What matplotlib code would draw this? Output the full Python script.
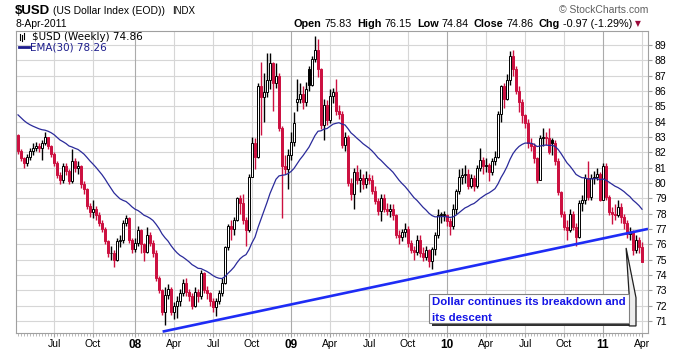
import matplotlib
matplotlib.use("Agg")
import matplotlib.pyplot as plt
from matplotlib.patches import Rectangle, Polygon
from matplotlib.transforms import Affine2D
import numpy as np
import pandas as pd

# weekly bars, labelled by the Monday that starts each week
first_week = "2007-04-09"

opens = [
    83.1, 82.1, 81.6, 81.3, 81.7, 82.1, 82.3, 82.4, 82.3, 82.6,
    83.0, 82.4, 81.9, 81.3, 80.5, 80.2, 81.1, 80.8, 80.1, 81.4,
    81.0, 81.1, 79.9, 79.6, 78.5, 78.1, 78.3, 77.9, 77.4, 77.0,
    76.2, 75.4, 75.4, 75.0, 76.2, 76.3, 77.4, 77.7, 76.3, 75.7,
    76.1, 76.9, 76.0, 75.5, 76.6, 76.1, 75.4, 73.8, 73.0, 71.6,
    72.7, 73.1, 71.6, 72.0, 72.3, 72.8, 73.5, 72.9, 72.6, 72.0,
    72.9, 72.6, 74.1, 73.0, 72.8, 72.3, 71.9, 72.3, 72.8, 73.5,
    75.8, 77.2, 77.0, 77.6, 79.0, 78.7, 77.6, 76.9, 80.4, 82.6,
    81.7, 86.3, 85.6, 85.9, 86.7, 87.8, 86.5, 87.0, 83.6, 81.1,
    80.9, 81.8, 82.7, 85.3, 85.5, 85.8, 85.3, 87.4, 86.4, 88.1,
    88.7, 87.4, 83.8, 85.1, 84.1, 85.7, 85.95, 84.7, 84.5, 82.5,
    83.0, 80.0, 79.3, 80.7, 80.2, 80.3, 79.9, 80.3, 80.2, 79.5,
    78.8, 78.2, 79.0, 78.3, 78.2, 78.3, 77.9, 76.6, 76.5, 76.8,
    77.0, 76.1, 75.6, 75.5, 76.3, 75.4, 75.2, 75.6, 74.9, 75.7,
    76.6, 77.9, 77.9, 77.9, 77.5, 77.2, 78.3, 79.5, 80.4, 80.5,
    80.6, 79.8, 80.3, 79.8, 81.0, 81.5, 81.1, 81.2, 80.7, 81.4,
    81.7, 84.5, 86.3, 85.5, 86.7, 88.3, 87.4, 86.0, 85.3, 84.4,
    83.9, 82.6, 82.4, 81.6, 80.2, 82.9, 83.0, 82.9, 82.8, 82.6,
    81.4, 79.4, 78.0, 77.1, 76.9, 78.0, 77.1, 76.5, 78.7, 78.9,
    80.3, 79.1, 80.3, 80.4, 80.6, 78.9, 81.1, 79.1, 78.1, 78.0,
    77.9, 78.4, 77.8, 77.4, 76.7, 76.8, 75.6, 76.3, 75.83,
]

highs = [
    83.2, 82.2, 81.7, 81.9, 82.3, 82.6, 82.7, 82.6, 82.8, 83.3,
    83.0, 82.5, 82.0, 81.4, 80.7, 81.3, 81.3, 80.9, 82.2, 81.6,
    81.4, 81.2, 80.1, 79.7, 78.7, 78.9, 78.5, 78.1, 77.6, 77.1,
    76.3, 75.9, 75.6, 76.4, 76.6, 77.6, 77.9, 77.8, 76.4, 76.4,
    77.2, 77.0, 76.1, 77.1, 76.8, 76.3, 75.6, 73.9, 73.1, 73.2,
    73.4, 73.2, 72.2, 72.6, 73.1, 73.7, 73.8, 73.1, 72.8, 73.2,
    73.1, 74.3, 74.2, 73.3, 72.9, 72.5, 72.5, 73.0, 73.8, 75.9,
    77.3, 77.6, 77.8, 79.1, 79.2, 79.3, 77.8, 80.6, 83.0, 82.9,
    86.5, 87.9, 87.2, 88.5, 88.5, 87.9, 87.8, 87.2, 83.7, 81.8,
    82.2, 83.3, 84.6, 86.8, 86.5, 86.3, 86.6, 87.6, 88.3, 89.6,
    89.4, 87.5, 85.5, 85.4, 86.1, 86.2, 86.8, 85.1, 84.7, 83.3,
    83.1, 80.3, 81.0, 81.2, 80.9, 80.6, 80.8, 80.6, 80.5, 79.8,
    79.0, 79.3, 79.3, 78.7, 78.6, 78.6, 78.0, 76.9, 77.0, 77.4,
    77.2, 76.3, 75.9, 76.6, 76.6, 75.8, 75.9, 75.7, 75.8, 76.8,
    78.3, 78.1, 78.2, 78.0, 77.7, 78.6, 79.6, 80.9, 81.0, 81.2,
    80.9, 80.6, 80.5, 81.2, 82.3, 81.7, 81.6, 81.3, 81.6, 82.1,
    84.7, 86.4, 86.5, 87.1, 88.6, 88.7, 87.6, 86.3, 85.5, 84.5,
    84.2, 82.9, 82.6, 81.7, 83.1, 83.6, 83.3, 83.6, 82.9, 82.8,
    81.6, 79.5, 78.2, 77.6, 78.3, 78.2, 77.4, 78.9, 79.2, 80.6,
    81.4, 80.6, 80.8, 81.0, 80.7, 81.3, 81.3, 79.2, 78.4, 78.6,
    78.9, 78.7, 78.0, 77.6, 77.1, 76.9, 76.6, 76.5, 76.15,
]

lows = [
    81.9, 81.4, 81.0, 81.1, 81.5, 81.8, 82.1, 82.0, 81.5, 82.5,
    82.2, 81.7, 81.1, 80.3, 79.9, 80.0, 80.5, 79.9, 80.0, 80.7,
    80.6, 79.7, 79.3, 78.3, 77.8, 77.7, 77.6, 77.2, 76.8, 76.0,
    75.2, 75.0, 74.5, 74.9, 75.8, 76.1, 77.2, 76.1, 75.4, 75.5,
    75.9, 75.4, 74.9, 75.4, 75.9, 75.2, 73.6, 72.8, 71.4, 70.7,
    72.4, 71.4, 71.1, 71.2, 72.0, 72.6, 72.6, 72.3, 71.8, 71.9,
    72.2, 72.4, 72.8, 72.4, 72.0, 71.6, 71.3, 72.1, 72.6, 73.4,
    75.6, 76.3, 76.6, 77.5, 78.0, 77.3, 75.9, 76.8, 80.4, 80.9,
    81.6, 83.1, 84.0, 85.6, 86.1, 84.7, 86.2, 83.4, 77.7, 80.6,
    79.6, 81.5, 82.4, 84.7, 85.2, 84.8, 85.0, 86.0, 86.3, 87.9,
    86.9, 83.5, 82.8, 83.8, 83.9, 85.2, 84.4, 84.2, 82.3, 82.1,
    79.8, 78.9, 78.3, 79.9, 79.4, 79.6, 79.7, 79.9, 79.3, 78.6,
    77.9, 77.5, 78.1, 77.9, 77.8, 77.6, 76.4, 76.0, 76.2, 76.5,
    75.8, 75.4, 75.0, 75.3, 75.2, 74.9, 75.0, 74.5, 74.4, 75.3,
    76.4, 77.4, 77.5, 77.2, 76.6, 77.0, 78.0, 79.3, 79.9, 80.0,
    79.6, 79.7, 79.5, 79.7, 80.8, 80.6, 80.7, 80.1, 80.5, 81.2,
    81.6, 84.0, 84.9, 85.4, 86.4, 87.0, 85.8, 84.6, 83.9, 83.6,
    82.3, 82.1, 81.3, 80.0, 80.2, 82.4, 82.5, 81.9, 81.8, 81.2,
    79.2, 77.8, 76.9, 76.3, 76.8, 76.9, 75.9, 76.4, 78.2, 78.6,
    78.9, 78.9, 79.9, 80.2, 78.8, 78.9, 78.9, 77.9, 77.3, 77.6,
    77.8, 77.4, 77.0, 76.4, 76.3, 75.3, 75.4, 75.4, 74.84,
]

closes = [
    82.1, 81.6, 81.3, 81.7, 82.1, 82.3, 82.4, 82.3, 82.6, 83.0,
    82.4, 81.9, 81.3, 80.5, 80.2, 81.1, 80.8, 80.1, 81.4, 81.0,
    81.1, 79.9, 79.6, 78.5, 78.1, 78.3, 77.9, 77.4, 77.0, 76.2,
    75.4, 75.4, 75.0, 76.2, 76.3, 77.4, 77.7, 76.3, 75.7, 76.1,
    76.9, 76.0, 75.5, 76.6, 76.1, 75.4, 73.8, 73.0, 71.6, 72.7,
    73.1, 71.6, 72.0, 72.3, 72.8, 73.5, 72.9, 72.6, 72.0, 72.9,
    72.6, 74.1, 73.0, 72.8, 72.3, 71.9, 72.3, 72.8, 73.5, 75.8,
    77.2, 77.0, 77.6, 79.0, 78.7, 77.6, 76.9, 80.4, 82.6, 81.7,
    86.3, 85.6, 85.9, 86.7, 87.8, 86.5, 87.0, 83.6, 81.1, 80.9,
    81.8, 82.7, 83.9, 85.5, 85.8, 85.3, 86.1, 86.4, 88.1, 88.7,
    87.4, 83.8, 85.1, 84.1, 85.7, 85.95, 84.7, 84.5, 82.5, 83.0,
    80.0, 79.3, 80.7, 80.2, 80.3, 79.9, 80.3, 80.2, 79.5, 78.8,
    78.2, 79.0, 78.3, 78.2, 78.3, 77.9, 76.6, 76.5, 76.8, 77.0,
    76.1, 75.6, 75.5, 76.3, 75.4, 75.2, 75.6, 74.9, 75.7, 76.6,
    77.9, 77.9, 77.9, 77.5, 77.2, 78.3, 79.5, 80.4, 80.5, 80.6,
    79.8, 80.3, 79.8, 81.0, 81.5, 81.1, 81.2, 80.7, 81.4, 81.7,
    84.5, 86.3, 85.5, 86.7, 88.3, 87.4, 86.0, 85.3, 84.4, 83.9,
    82.6, 82.4, 81.6, 80.2, 82.9, 83.0, 82.9, 82.0, 82.6, 81.4,
    79.4, 78.0, 77.1, 76.9, 78.0, 77.1, 76.5, 78.7, 78.9, 80.3,
    79.1, 80.3, 80.4, 80.6, 78.9, 81.1, 79.1, 78.1, 78.0, 77.9,
    78.4, 77.8, 77.4, 76.7, 76.8, 75.6, 76.3, 75.83, 74.86,
]

ema_span = 30
ema_seed = 84.6  # EMA level carried in from the weeks before the first bar

# hand-drawn trendline and note, in (bar index, price)
trend_start = (48.2, 70.3)
trend_end = (210.0, 77.0)
note_box = (137.0, 70.87, 203.7, 72.76)
note_tip = (202.7, 75.76)
note_lines = ["Dollar continues its breakdown and", "its descent"]

quote_items = [("Open", "75.83"), ("High", "76.15"), ("Low", "74.84"),
               ("Close", "74.86"), ("Chg", "-0.97 (-1.29%)")]

RED = "#CC1040"
NAVY = "#2A2A9A"
GRID = "#D6D6D6"
FRAME = "#A0A0A0"

plt.rcParams["font.family"] = ["Liberation Sans", "DejaVu Sans"]

fig = plt.figure(figsize=(6.8, 3.5), dpi=100)
ax = fig.add_axes([16 / 680, 17 / 350, 632 / 680, 302 / 350])
px = Affine2D().scale(1, -1).translate(0, 350)  # pixel coords, origin top-left
renderer = fig.canvas.get_renderer()

n = len(closes)
x = np.arange(n)
o = np.array(opens)
h = np.array(highs)
l = np.array(lows)
c = np.array(closes)

# candle colour follows the previous close, fill follows open vs close
prev = np.r_[o[0], c[:-1]]
col = np.where(c >= prev, "black", RED)
face = np.where(c >= o, "white", col)
ax.vlines(x, l, h, colors=col, lw=1.0, zorder=3)
body_lo = np.minimum(o, c)
body_h = np.maximum(np.abs(c - o), 0.06)
ax.bar(x, body_h, bottom=body_lo, width=0.72, color=face, edgecolor=col,
       linewidth=0.7, zorder=4)

# EMA(30)
alpha = 2.0 / (ema_span + 1)
ema = []
level = ema_seed
for v in closes:
    level += alpha * (v - level)
    ema.append(level)
ax.plot(x, ema, color=NAVY, lw=0.9, zorder=5)

ax.plot([trend_start[0], trend_end[0]], [trend_start[1], trend_end[1]],
        color="#1E2CF5", lw=1.9, solid_capstyle="butt", zorder=6)

# axes, ticks and grid
weeks = pd.date_range(first_week, periods=n, freq="W-MON")
tick_pos, tick_lab, year_tick = [], [], []
for i in range(1, n):
    m = weeks[i].month
    if m != weeks[i - 1].month and m in (1, 4, 7, 10):
        tick_pos.append(i)
        if m == 1:
            tick_lab.append(weeks[i].strftime("%y"))
            year_tick.append(True)
        else:
            tick_lab.append(weeks[i].strftime("%b"))
            year_tick.append(False)

ax.set_xlim(-0.67, 210.0)
ax.set_ylim(70.21, 89.91)
ax.set_xticks(tick_pos)
ax.set_xticklabels(tick_lab)
ax.set_xticks(x, minor=True)
for lab, is_year in zip(ax.get_xticklabels(), year_tick):
    if is_year:
        lab.set_fontweight("bold")
        lab.set_fontsize(8.5)
    else:
        lab.set_fontsize(7.5)
ax.tick_params(axis="x", which="major", length=3, color=FRAME, pad=1.5)
ax.tick_params(axis="x", which="minor", length=2, color="#B0B0B0")

ax.yaxis.tick_right()
ax.set_yticks(range(71, 90))
ax.tick_params(axis="y", length=3, color=FRAME, pad=2, labelsize=7.5)

for yv in range(71, 90):
    ax.axhline(yv, color=GRID, lw=0.8, zorder=0)
for xp, is_year in zip(tick_pos, year_tick):
    ax.axvline(xp, color="#ABABAB" if is_year else GRID, lw=0.8, zorder=0)
for s in ax.spines.values():
    s.set_color(FRAME)
    s.set_linewidth(0.8)

# note box: drop shadow, pointer wedge, then the box itself
bx0, by0, bx1, by1 = note_box
ax.add_patch(Rectangle((bx0 + 1.0, by0 - 0.2), bx1 - bx0, by1 - by0,
                       facecolor="#303030", edgecolor="none", zorder=7))
ax.add_patch(Polygon([note_tip, (bx1 + 2.3, by1 - 0.25), (bx1 + 2.3, by0 - 0.2),
                      (bx1, by0 - 0.2), (bx1, by1)], closed=True,
                     facecolor="#EDEDED", edgecolor="#202020", lw=0.9,
                     zorder=7))
ax.add_patch(Rectangle((bx0, by0), bx1 - bx0, by1 - by0, facecolor="white",
                       edgecolor="#808080", lw=0.8, zorder=8))
for k, line in enumerate(note_lines):
    ax.text(bx0 + 1.0, 72.24 - 1.05 * k, line, color="#1414E6",
            fontsize=8.2, fontweight="bold", va="center", ha="left", zorder=9)

# header
fig.text(15, 11, "$USD", transform=px, fontsize=9.5, fontweight="bold",
         va="center", ha="left")
fig.text(53, 11, "(US Dollar Index (EOD))", transform=px, fontsize=7.5,
         va="center", ha="left")
fig.text(172, 11, "INDX", transform=px, fontsize=7, va="center", ha="left")
fig.text(15, 24, "8-Apr-2011", transform=px, fontsize=7.5, va="center",
         ha="left")
fig.text(648, 10, "\u00a9 StockCharts.com", transform=px, fontsize=7.5,
         color="#606060", va="center", ha="right")

# quote line, laid out left to right from measured widths
xq = 294
for label, value in quote_items:
    t = fig.text(xq, 24, label, transform=px, fontsize=7.8, fontweight="bold",
                 va="center", ha="left")
    xq += t.get_window_extent(renderer).width + 3
    t = fig.text(xq, 24, value, transform=px, fontsize=7.8, va="center",
                 ha="left")
    xq += t.get_window_extent(renderer).width + 5
fig.text(xq - 2, 24, "\u25bc", transform=px, fontsize=5.5, color="#9A0A3A",
         family="DejaVu Sans", va="center", ha="left")

# legend
for dx, top, bot in [(19.5, 34, 40), (21.5, 35, 41), (23.5, 33, 39)]:
    fig.add_artist(plt.Line2D([dx, dx], [top, bot], transform=px,
                              color="black", lw=0.8))
fig.text(32, 37, "$USD (Weekly) 74.86", transform=px, fontsize=7.5,
         family="DejaVu Sans", va="center", ha="left")
fig.add_artist(plt.Line2D([19, 29], [47, 47], transform=px, color="#1C1C8C",
                          lw=2))
fig.text(30, 47, "EMA(30) 78.26", transform=px, fontsize=7.5,
         family="DejaVu Sans", color="#1C1C8C", va="center", ha="left")

fig.savefig("out.png", dpi=100)
